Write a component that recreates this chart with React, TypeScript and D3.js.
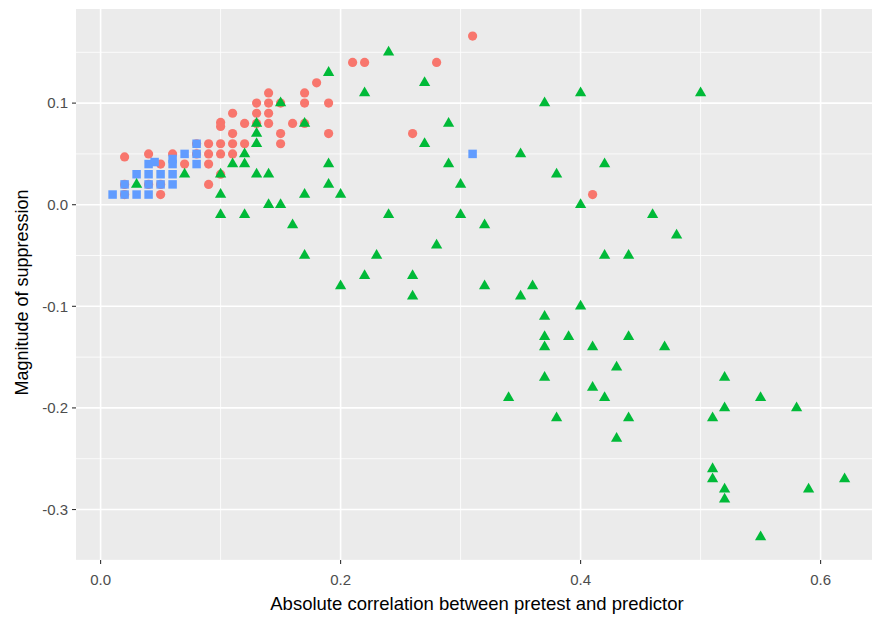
import React from "react";
import * as d3 from "d3";

// three groups: [abs correlation, suppression]
const redPoints: [number, number][] = [
  [0.02, 0.047], [0.02, 0.02], [0.02, 0.01], [0.04, 0.05], [0.04, 0.02], [0.05, 0.04],
  [0.05, 0.02], [0.05, 0.01], [0.06, 0.05], [0.07, 0.04], [0.08, 0.06], [0.08, 0.05],
  [0.09, 0.06], [0.09, 0.05], [0.09, 0.04], [0.09, 0.02], [0.10, 0.081], [0.10, 0.077],
  [0.10, 0.06], [0.10, 0.05], [0.10, 0.03], [0.11, 0.09], [0.11, 0.07], [0.11, 0.06],
  [0.11, 0.05], [0.12, 0.08], [0.12, 0.06], [0.13, 0.10], [0.13, 0.09], [0.13, 0.08],
  [0.14, 0.11], [0.14, 0.10], [0.14, 0.09], [0.14, 0.08], [0.15, 0.10], [0.15, 0.07],
  [0.15, 0.06], [0.16, 0.08], [0.17, 0.11], [0.17, 0.10], [0.17, 0.08], [0.18, 0.12],
  [0.19, 0.10], [0.19, 0.07], [0.21, 0.14], [0.22, 0.14], [0.26, 0.07], [0.28, 0.14],
  [0.31, 0.166], [0.41, 0.01],
];

const bluePoints: [number, number][] = [
  [0.01, 0.01], [0.02, 0.01], [0.03, 0.01], [0.04, 0.01], [0.02, 0.02], [0.04, 0.02],
  [0.05, 0.02], [0.06, 0.02], [0.03, 0.03], [0.04, 0.03], [0.05, 0.03], [0.06, 0.03],
  [0.04, 0.04], [0.045, 0.042], [0.06, 0.04], [0.06, 0.045], [0.07, 0.05], [0.08, 0.06],
  [0.08, 0.05], [0.08, 0.04], [0.31, 0.05],
];

const greenPoints: [number, number][] = [
  [0.03, 0.02], [0.07, 0.03], [0.10, 0.03], [0.10, 0.01], [0.10, -0.01], [0.11, 0.04],
  [0.12, 0.05], [0.12, 0.04], [0.12, -0.01], [0.13, 0.08], [0.13, 0.07], [0.13, 0.06],
  [0.13, 0.03], [0.14, 0.03], [0.14, 0.00], [0.15, 0.10], [0.15, 0.00], [0.16, -0.02],
  [0.17, 0.08], [0.17, 0.01], [0.17, -0.05], [0.19, 0.13], [0.19, 0.04], [0.19, 0.02],
  [0.20, 0.01], [0.20, -0.08], [0.22, 0.11], [0.22, -0.07], [0.23, -0.05], [0.24, 0.15],
  [0.24, -0.01], [0.26, -0.07], [0.26, -0.09], [0.27, 0.12], [0.27, 0.06], [0.28, -0.04],
  [0.29, 0.08], [0.29, 0.04], [0.30, 0.02], [0.30, -0.01], [0.32, -0.02], [0.32, -0.08],
  [0.34, -0.19], [0.35, 0.05], [0.35, -0.09], [0.36, -0.08], [0.37, 0.10], [0.37, -0.11],
  [0.37, -0.13], [0.37, -0.14], [0.37, -0.17], [0.38, 0.03], [0.38, -0.21], [0.39, -0.13],
  [0.40, 0.11], [0.40, 0.00], [0.40, -0.10], [0.41, -0.14], [0.41, -0.18], [0.42, 0.04],
  [0.42, -0.05], [0.42, -0.19], [0.43, -0.16], [0.43, -0.23], [0.44, -0.05], [0.44, -0.13],
  [0.44, -0.21], [0.46, -0.01], [0.47, -0.14], [0.48, -0.03], [0.50, 0.11], [0.51, -0.21],
  [0.51, -0.26], [0.51, -0.27], [0.52, -0.17], [0.52, -0.20], [0.52, -0.28], [0.52, -0.29],
  [0.55, -0.19], [0.55, -0.327], [0.58, -0.20], [0.59, -0.28], [0.62, -0.27],
];

const xTicks = [0, 0.2, 0.4, 0.6];
const xMinor = [0.1, 0.3, 0.5];
const yTicks = [-0.3, -0.2, -0.1, 0, 0.1];
const yMinor = [-0.35, -0.25, -0.15, -0.05, 0.05, 0.15];

const xTitle = "Absolute correlation between pretest and predictor";
const yTitle = "Magnitude of suppression";

const W = 872, H = 619;
const panel = { left: 76, top: 9, bottom: 560 };
const font = "'Liberation Sans', Arial, sans-serif";

// R prints a plain hyphen, not the unicode minus d3 uses
const fmt = (v: number) => v.toFixed(1);

export default function App() {
  const all = [...redPoints, ...bluePoints, ...greenPoints];
  const [x0, x1] = d3.extent(all, d => d[0]) as [number, number];
  const [y0, y1] = d3.extent(all, d => d[1]) as [number, number];
  const xPad = (x1 - x0) * 0.05, yPad = (y1 - y0) * 0.05;

  // 0.1 on x is 120px in the reference; panel runs off the right edge
  const x = d3.scaleLinear().domain([x0 - xPad, x1 + xPad])
    .range([panel.left, panel.left + (x1 - x0 + 2 * xPad) * 1200]);
  const y = d3.scaleLinear().domain([y0 - yPad, y1 + yPad]).range([panel.bottom + 2, panel.top + 2]);

  const circle = d3.symbol().type(d3.symbolCircle).size(Math.PI * 4.6 * 4.6)();
  const square = d3.symbol().type(d3.symbolSquare).size(8.5 * 8.5)();
  const triangle = d3.symbol().type(d3.symbolTriangle).size(55)();

  const right = x.range()[1];

  return (
    <svg width={W} height={H} style={{ position: "absolute", left: 0, top: 0, background: "#fff" }}
      fontFamily={font}>
      <rect x={panel.left} y={panel.top} width={right - panel.left} height={panel.bottom - panel.top}
        fill="#EBEBEB" />
      {yMinor.map(v => (
        <line key={"ym" + v} x1={panel.left} x2={right} y1={y(v)} y2={y(v)} stroke="#fff" strokeWidth={0.8} />
      ))}
      {xMinor.map(v => (
        <line key={"xm" + v} x1={x(v)} x2={x(v)} y1={panel.top} y2={panel.bottom} stroke="#fff" strokeWidth={0.8} />
      ))}
      {yTicks.map(v => (
        <line key={"yg" + v} x1={panel.left} x2={right} y1={y(v)} y2={y(v)} stroke="#fff" strokeWidth={1.6} />
      ))}
      {xTicks.map(v => (
        <line key={"xg" + v} x1={x(v)} x2={x(v)} y1={panel.top} y2={panel.bottom} stroke="#fff" strokeWidth={1.6} />
      ))}

      {redPoints.map((d, i) => (
        <path key={"r" + i} d={circle!} transform={`translate(${x(d[0])},${y(d[1])})`} fill="#F8766D" />
      ))}
      {bluePoints.map((d, i) => (
        <path key={"b" + i} d={square!} transform={`translate(${x(d[0])},${y(d[1])})`} fill="#619CFF" />
      ))}
      {greenPoints.map((d, i) => (
        <path key={"g" + i} d={triangle!} transform={`translate(${x(d[0])},${y(d[1])})`} fill="#00BA38" />
      ))}

      {yTicks.map(v => (
        <g key={"yt" + v} transform={`translate(0,${y(v)})`}>
          <line x1={panel.left - 4} x2={panel.left} stroke="#333" strokeWidth={1.1} />
          <text x={panel.left - 8} dy="0.35em" textAnchor="end" fontSize={15} fill="#4D4D4D">
            {fmt(v)}
          </text>
        </g>
      ))}
      {xTicks.map(v => (
        <g key={"xt" + v} transform={`translate(${x(v)},${panel.bottom})`}>
          <line y1={0} y2={4} stroke="#333" strokeWidth={1.1} />
          <text y={20} dy="0.35em" textAnchor="middle" fontSize={15} fill="#4D4D4D">
            {fmt(v)}
          </text>
        </g>
      ))}

      <text x={477} y={610} textAnchor="middle" fontSize={18.5} fill="#000">{xTitle}</text>
      <text transform={`translate(28,${(panel.top + panel.bottom) / 2 + 8}) rotate(-90)`} textAnchor="middle"
        fontSize={18} fill="#000">{yTitle}</text>
    </svg>
  );
}
